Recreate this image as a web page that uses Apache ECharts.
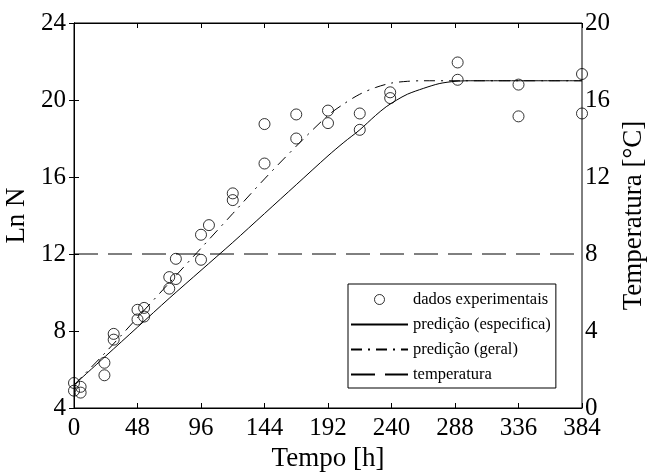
<!DOCTYPE html>
<html>
<head>
<meta charset="utf-8">
<script src="https://cdn.jsdelivr.net/npm/echarts@6/dist/echarts.min.js"></script>
<style>
  html, body { margin: 0; padding: 0; background: #fff; }
  #chart { width: 648px; height: 473px; }
</style>
</head>
<body>
<div id="chart"></div>
<script>
// Experimental ln N measurements: time [h] and value
const obsTime = [0, 0, 5, 5, 23, 23, 30, 30, 48, 48, 53, 53, 72, 72, 77, 77, 96, 96, 102,
  120, 120, 144, 144, 168, 168, 192, 192, 216, 216, 239, 239, 290, 290, 336, 336, 384, 384];
const obsLnN = [5.3, 4.9, 5.1, 4.8, 6.35, 5.7, 7.85, 7.55, 9.1, 8.6, 9.2, 8.75, 10.8, 10.2, 10.7, 11.75, 11.7, 13.0, 13.5,
  15.15, 14.8, 18.75, 16.7, 19.25, 18.0, 19.45, 18.8, 19.3, 18.45, 20.4, 20.1, 21.95, 21.05, 20.8, 19.15, 21.35, 19.3];

// Specific-model prediction
const specTime = [0, 24, 48, 72, 96, 120, 144, 168, 192, 204, 216, 228, 236, 244, 252, 264, 276, 288, 300, 384];
const specLnN = [5.2, 6.7, 8.2, 9.7, 11.15, 12.6, 14.1, 15.6, 17.1, 17.8, 18.45, 19.2, 19.65, 20.0, 20.3, 20.6, 20.85, 20.97, 21.0, 21.0];

// General-model prediction
const geralTime = [0, 24, 48, 72, 96, 120, 144, 168, 192, 204, 216, 228, 240, 252, 264, 288, 384];
const geralLnN = [5.2, 6.9, 8.7, 10.5, 12.3, 14.1, 15.9, 17.6, 19.2, 19.8, 20.3, 20.65, 20.88, 20.97, 21.0, 21.0, 21.0];

// Storage temperature [°C]
const tempTime = [0, 384];
const tempC = [8, 8];

// Axis ticks
const xTicks = { min: 0, max: 384, step: 48 };
const lnTicks = { min: 4, max: 24, step: 4 };
const tempTicks = { min: 0, max: 20, step: 4 };

const pairs = (xs, ys) => xs.map((x, i) => [x, ys[i]]);

const serif = 'Liberation Serif';
const tickText = { fontFamily: serif, fontSize: 25, color: '#000' };
const nameText = { fontFamily: serif, fontSize: 27, color: '#000' };
const blackLine = { lineStyle: { color: '#000', width: 1 } };
const innerTick = { inside: true, length: 5, lineStyle: { color: '#000' } };
const noMarker = { opacity: 0 };

const chart = echarts.init(document.getElementById('chart'), null, { renderer: 'canvas' });

chart.setOption({
  animation: false,
  backgroundColor: '#fff',
  color: ['#000'],
  grid: {
    left: 74, right: 66, top: 23, bottom: 65,
    outerBoundsMode: 'none', containLabel: false,
    show: true, borderColor: '#000', borderWidth: 1
  },
  xAxis: [
    {
      type: 'value', position: 'bottom', min: xTicks.min, max: xTicks.max, interval: xTicks.step,
      name: 'Tempo [h]', nameLocation: 'middle', nameGap: 31, nameTextStyle: nameText,
      axisLine: blackLine, splitLine: { show: false }, axisTick: innerTick,
      axisLabel: Object.assign({ margin: 8 }, tickText)
    },
    {
      type: 'value', position: 'top', min: xTicks.min, max: xTicks.max, interval: xTicks.step,
      axisLine: blackLine, splitLine: { show: false }, axisTick: innerTick,
      axisLabel: { show: false }
    }
  ],
  yAxis: [
    {
      type: 'value', position: 'left', min: lnTicks.min, max: lnTicks.max, interval: lnTicks.step,
      name: 'Ln N', nameLocation: 'middle', nameGap: 43, nameRotate: 90, nameTextStyle: nameText,
      axisLine: blackLine, splitLine: { show: false }, axisTick: innerTick,
      axisLabel: Object.assign({ margin: 8 }, tickText)
    },
    {
      type: 'value', position: 'right', min: tempTicks.min, max: tempTicks.max, interval: tempTicks.step,
      name: 'Temperatura [°C]', nameLocation: 'middle', nameGap: 38, nameRotate: 90, nameTextStyle: nameText,
      axisLine: blackLine, splitLine: { show: false }, axisTick: innerTick,
      axisLabel: Object.assign({ margin: 3 }, tickText)
    }
  ],
  legend: {
    orient: 'vertical', left: 348, top: 284,
    backgroundColor: '#fff', borderColor: '#000', borderWidth: 1, borderRadius: 0,
    padding: [7, 5, 5, 2],
    itemWidth: 57, itemHeight: 10, itemGap: 8,
    textStyle: { fontFamily: serif, fontSize: 16.5, color: '#000' },
    data: [
      { name: 'dados experimentais', icon: 'circle',
        itemStyle: { color: 'rgba(0,0,0,0)', borderColor: '#000', borderWidth: 1 } },
      { name: 'predição (especifica)', itemStyle: noMarker },
      { name: 'predição (geral)', itemStyle: noMarker },
      { name: 'temperatura', itemStyle: noMarker }
    ]
  },
  series: [
    {
      name: 'temperatura', type: 'line', xAxisIndex: 0, yAxisIndex: 1,
      data: pairs(tempTime, tempC), symbol: 'none', silent: true,
      lineStyle: { color: '#000', width: 1, type: [24, 10] }
    },
    {
      name: 'predição (geral)', type: 'line', xAxisIndex: 0, yAxisIndex: 0,
      data: pairs(geralTime, geralLnN), symbol: 'none', smooth: 0.3,
      lineStyle: { color: '#000', width: 1, type: [11, 6, 2, 6] }
    },
    {
      name: 'predição (especifica)', type: 'line', xAxisIndex: 0, yAxisIndex: 0,
      data: pairs(specTime, specLnN), symbol: 'none', smooth: 0.3,
      lineStyle: { color: '#000', width: 1 }
    },
    {
      name: 'dados experimentais', type: 'scatter', xAxisIndex: 0, yAxisIndex: 0,
      data: pairs(obsTime, obsLnN), symbol: 'circle', symbolSize: 11,
      itemStyle: { color: 'rgba(0,0,0,0)', borderColor: '#000', borderWidth: 1 }
    }
  ]
});
</script>
</body>
</html>
